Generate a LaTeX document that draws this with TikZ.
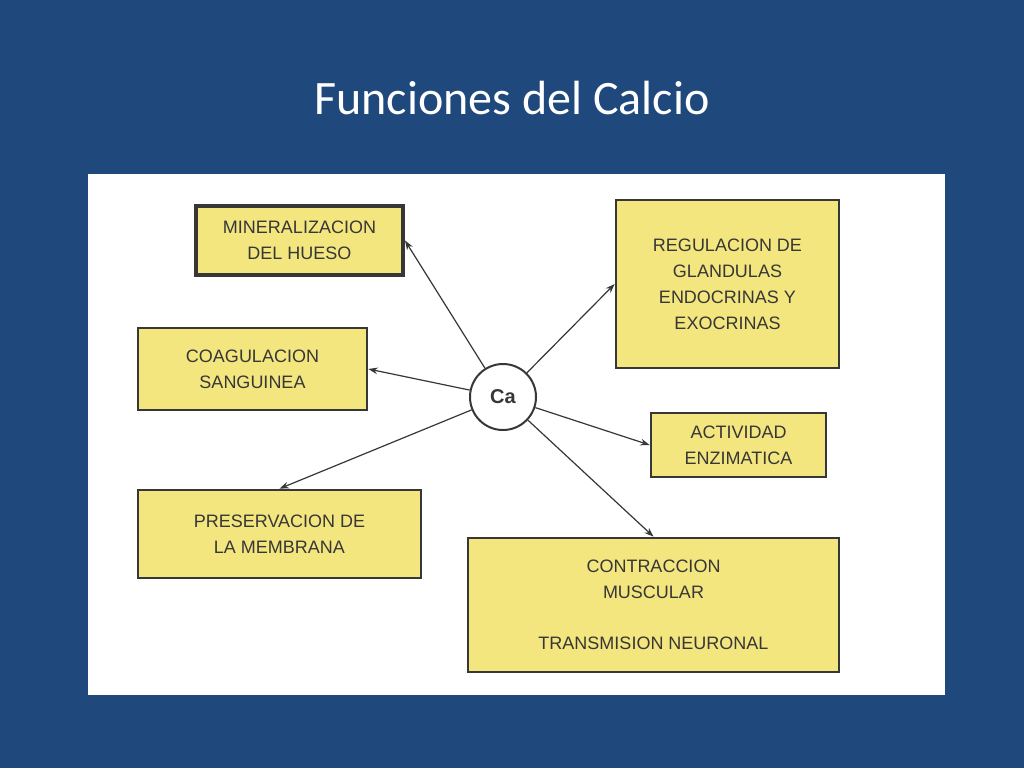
\documentclass[tikz,border=0pt]{standalone}
\usepackage{fontspec}
\setmainfont{Liberation Sans}
\newfontfamily\titlefont{Carlito}
\usetikzlibrary{arrows.meta}
\definecolor{bg}{RGB}{31,73,125}
\definecolor{boxy}{RGB}{244,230,126}
\definecolor{ink}{RGB}{55,55,55}
\begin{document}
\begin{tikzpicture}[x=0.75pt,y=-0.75pt,
  fbox/.style={draw=ink,line width=2pt,fill=boxy,align=center,text=ink,font=\fontsize{13.5}{19.5}\selectfont,inner sep=0pt},
  conn/.style={draw=ink,line width=0.9pt,-{Stealth[length=7pt,width=5pt]}}]
\useasboundingbox (0,0) rectangle (1024,768);
\fill[bg] (0,0) rectangle (1024,768);
\node[text=white,font=\titlefont\fontsize{36}{40}\selectfont] (title) at (512,98) {Funciones del Calcio};
\fill[white] (88,174) rectangle (945,695);
\node[fbox,line width=3pt,minimum width=207*0.75pt,minimum height=69*0.75pt] (mine) at (299.5,240.5) {MINERALIZACION\\DEL HUESO};
\node[fbox,minimum width=223*0.75pt,minimum height=168*0.75pt] (regu) at (727.5,284) {REGULACION DE\\GLANDULAS\\ENDOCRINAS Y\\EXOCRINAS};
\node[fbox,minimum width=229*0.75pt,minimum height=82*0.75pt] (coag) at (252.5,369) {COAGULACION\\SANGUINEA};
\node[fbox,minimum width=175*0.75pt,minimum height=64*0.75pt] (acti) at (738.5,445) {ACTIVIDAD\\ENZIMATICA};
\node[fbox,minimum width=283*0.75pt,minimum height=88*0.75pt] (pres) at (279.5,534) {PRESERVACION DE\\LA MEMBRANA};
\node[fbox,minimum width=371*0.75pt,minimum height=134*0.75pt] (cont) at (653.5,605) {CONTRACCION\\MUSCULAR\\[19pt]TRANSMISION NEURONAL};
\node[circle,draw=ink,line width=1.5pt,fill=white,minimum size=66*0.75pt,inner sep=0pt,text=ink,font=\bfseries\fontsize{15}{18}\selectfont] (ca) at (503,397) {Ca};
\draw[conn] (ca) -- (mine.east);
\draw[conn] (ca) -- (regu.west);
\draw[conn] (ca) -- (coag.east);
\draw[conn] (ca) -- (acti.west);
\draw[conn] (ca) -- (pres.north);
\draw[conn] (ca) -- (cont.north);
\end{tikzpicture}
\end{document}
